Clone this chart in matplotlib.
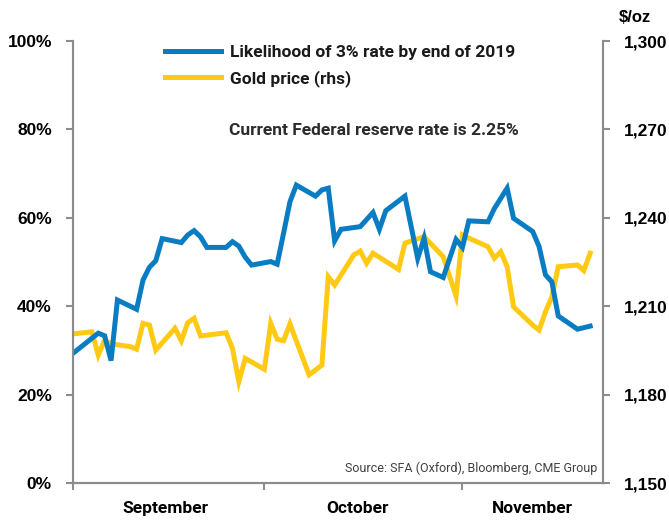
import pandas as pd
import matplotlib
matplotlib.use("Agg")
import matplotlib.pyplot as plt

# Likelihood of a 3% Fed rate by end of 2019 (%)
rate_dates = ["2018-09-01", "2018-09-05", "2018-09-06", "2018-09-07", "2018-09-08",
              "2018-09-11", "2018-09-12", "2018-09-13", "2018-09-14", "2018-09-15",
              "2018-09-18", "2018-09-19", "2018-09-20", "2018-09-21", "2018-09-22",
              "2018-09-25", "2018-09-26", "2018-09-27", "2018-09-28", "2018-09-29",
              "2018-10-02", "2018-10-03", "2018-10-04", "2018-10-05", "2018-10-06",
              "2018-10-09", "2018-10-10", "2018-10-11", "2018-10-12", "2018-10-13",
              "2018-10-16", "2018-10-18", "2018-10-19", "2018-10-20", "2018-10-23",
              "2018-10-25", "2018-10-26", "2018-10-27", "2018-10-29", "2018-10-31",
              "2018-11-01", "2018-11-02", "2018-11-05", "2018-11-06", "2018-11-08",
              "2018-11-09", "2018-11-12", "2018-11-13", "2018-11-14", "2018-11-15",
              "2018-11-16", "2018-11-19", "2018-11-21"]
rate_prob = [29.3, 33.9, 33.3, 27.7, 41.4,
             39.3, 45.9, 48.8, 50.3, 55.3,
             54.4, 56.1, 57.1, 55.7, 53.3,
             53.3, 54.6, 53.6, 51.1, 49.3,
             50.1, 49.5, 56.5, 63.6, 67.4,
             64.9, 66.3, 66.7, 54.8, 57.4,
             58.0, 61.2, 57.4, 61.6, 64.9,
             50.8, 55.4, 47.8, 46.5, 55.1,
             53.3, 59.3, 59.1, 62.1, 66.7,
             59.9, 56.9, 53.5, 47.1, 45.5,
             37.8, 34.8, 35.5]

# Gold price ($/oz, rhs)
gold_dates = ["2018-09-01", "2018-09-04", "2018-09-05", "2018-09-06", "2018-09-07",
              "2018-09-10", "2018-09-11", "2018-09-12", "2018-09-13", "2018-09-14",
              "2018-09-17", "2018-09-18", "2018-09-19", "2018-09-20", "2018-09-21",
              "2018-09-25", "2018-09-26", "2018-09-27", "2018-09-28", "2018-10-01",
              "2018-10-02", "2018-10-03", "2018-10-04", "2018-10-05", "2018-10-08",
              "2018-10-10", "2018-10-11", "2018-10-12", "2018-10-15", "2018-10-16",
              "2018-10-17", "2018-10-18", "2018-10-22", "2018-10-23", "2018-10-26",
              "2018-10-29", "2018-10-31", "2018-11-01", "2018-11-02", "2018-11-05",
              "2018-11-06", "2018-11-07", "2018-11-08", "2018-11-09", "2018-11-12",
              "2018-11-13", "2018-11-14", "2018-11-15", "2018-11-16", "2018-11-19",
              "2018-11-20", "2018-11-21"]
gold_price = [1200.6, 1201.3, 1193.4, 1198.5, 1197.2,
              1196.3, 1195.4, 1204.2, 1203.6, 1195.1,
              1202.5, 1198.3, 1204.4, 1205.9, 1199.9,
              1201.0, 1195.7, 1184.4, 1192.3, 1188.6,
              1204.2, 1198.8, 1198.3, 1204.0, 1186.7,
              1190.0, 1220.0, 1217.2, 1227.4, 1228.7,
              1224.6, 1228.0, 1222.5, 1231.4, 1233.6,
              1226.8, 1213.5, 1234.2, 1233.1, 1230.2,
              1226.3, 1228.5, 1223.4, 1209.8, 1203.6,
              1201.9, 1208.1, 1213.2, 1223.4, 1224.0,
              1222.1, 1228.0]

month_starts = ["2018-09-01", "2018-10-01", "2018-11-01"]
month_mids = ["2018-09-15T12:00", "2018-10-15T12:00", "2018-11-12"]
month_labels = ["September", "October", "November"]
pct_ticks = [0, 20, 40, 60, 80, 100]
gold_ticks = [1150, 1180, 1210, 1240, 1270, 1300]

BLUE = "#0A7CC1"
GOLD = "#FFC914"
SPINE = "#8C8C8C"
NARROW = ["Roboto", "DejaVu Sans"]
WIDE = ["Liberation Sans", "DejaVu Sans"]

fig = plt.figure(figsize=(6.69, 5.21), dpi=100)
ax = fig.add_axes([0.1087, 0.0729, 0.7926, 0.8484])
ax2 = ax.twinx()

l1, = ax.plot(pd.to_datetime(rate_dates), rate_prob, color=BLUE, lw=3.6,
              solid_joinstyle="miter", label="Likelihood of 3% rate by end of 2019")
l2, = ax2.plot(pd.to_datetime(gold_dates), gold_price, color=GOLD, lw=3.6,
               solid_joinstyle="miter", label="Gold price (rhs)")
# blue line sits on top of the gold one
ax.set_zorder(ax2.get_zorder() + 1)
ax.patch.set_visible(False)

ax.set_xlim(pd.Timestamp("2018-09-01"), pd.Timestamp("2018-11-23"))
ax.set_ylim(0, 100)
ax2.set_ylim(1150, 1300)

ax.set_yticks(pct_ticks)
ax.set_yticklabels([f"{v}%" for v in pct_ticks])
ax2.set_yticks(gold_ticks)
ax2.set_yticklabels([f"{v:,}" for v in gold_ticks])

ax.set_xticks(pd.to_datetime(month_starts))
ax.set_xticklabels([])
ax.set_xticks(pd.to_datetime(month_mids, format="ISO8601"), minor=True)
ax.set_xticklabels(month_labels, minor=True)
ax.tick_params(axis="x", which="minor", length=0, pad=13)

for a in (ax, ax2):
    a.spines["top"].set_visible(False)
    for side in ("left", "right", "bottom"):
        a.spines[side].set_color(SPINE)
        a.spines[side].set_linewidth(1.5)
    a.tick_params(which="major", color=SPINE, width=1.5, length=5)

for lab in ax.get_yticklabels() + ax2.get_yticklabels():
    lab.set_family(WIDE)
    lab.set_fontweight("bold")
    lab.set_fontsize(12.5)
for lab in ax.get_xticklabels(minor=True):
    lab.set_family(NARROW)
    lab.set_fontweight("bold")
    lab.set_fontsize(12.5)
ax.tick_params(axis="y", pad=10)
ax2.tick_params(axis="y", pad=10)

leg = ax.legend(handles=[l1, l2], loc="upper left", bbox_to_anchor=(0.174, 0.992),
                frameon=False, borderpad=0, borderaxespad=0, handlelength=3.2,
                handletextpad=0.55, labelspacing=0.6,
                prop={"family": NARROW, "weight": "bold", "size": 12.5})
for t in leg.get_texts():
    t.set_color("#1a1a1a")

ax.text(0.2947, 0.7986, "Current Federal reserve rate is 2.25%", transform=ax.transAxes,
        ha="left", va="center", family=NARROW, fontweight="bold", fontsize=12.5,
        color="#2b2b2b")
ax.text(0.99, 0.034, "Source: SFA (Oxford), Bloomberg, CME Group", transform=ax.transAxes,
        ha="right", va="center", family=NARROW, fontsize=9, color="#404040")
fig.text(0.949, 0.967, "$/oz", ha="center", va="center", family=WIDE,
         fontweight="bold", fontsize=12)

fig.savefig("out.png", dpi=100)
